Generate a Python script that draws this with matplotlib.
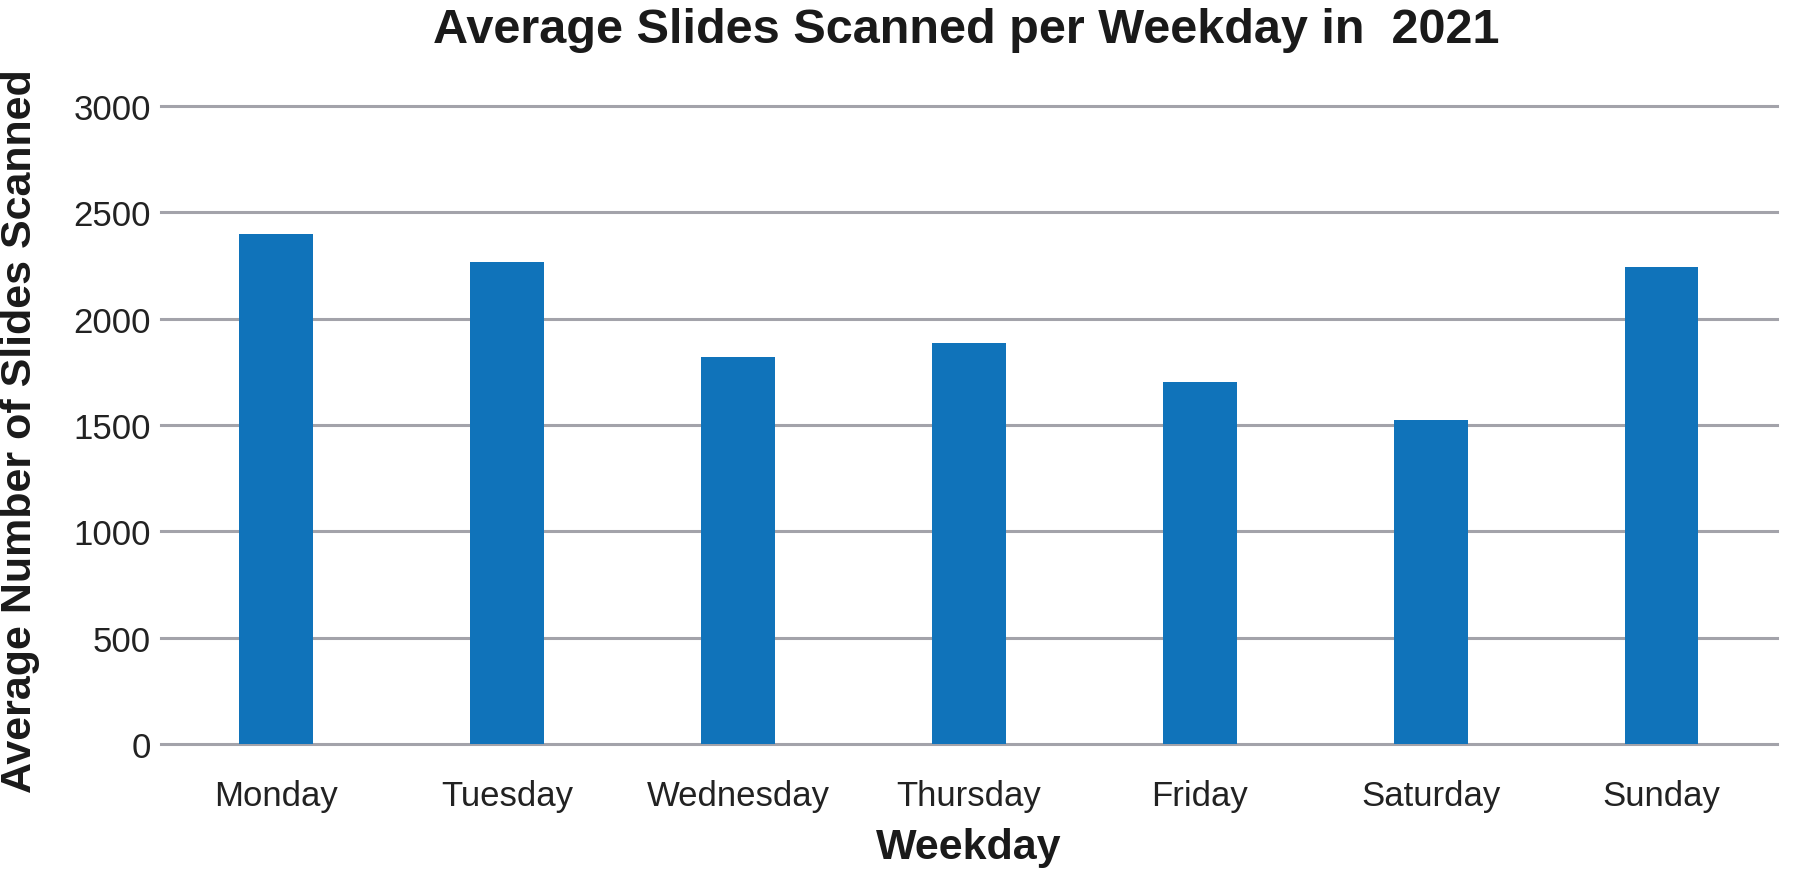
import numpy as np
import matplotlib
matplotlib.use("Agg")
import matplotlib.pyplot as plt

plt.rcParams['font.family'] = ['Liberation Sans', 'DejaVu Sans']

# data
days = ["Monday", "Tuesday", "Wednesday", "Thursday", "Friday", "Saturday", "Sunday"]
slides = [2400, 2265, 1818, 1885, 1700, 1522, 2245]
yticks = [0, 500, 1000, 1500, 2000, 2500, 3000]

bar_color = "#1073BA"
grid_color = "#A3A3AA"

fig = plt.figure(figsize=(18, 8.7), dpi=100)
ax = fig.add_axes([0.0894, 0.1437, 0.8978, 0.7333])

x = np.arange(len(days))
ax.bar(x, slides, width=0.32, color=bar_color, zorder=3)

ax.set_xlim(-0.5, len(days) - 0.5)
ax.set_ylim(0, 3000)
ax.set_yticks(yticks)
ax.set_xticks(x)
ax.set_xticklabels(days)

# only horizontal grid lines, no frame
for s in ax.spines.values():
    s.set_visible(False)
ax.yaxis.grid(True, color=grid_color, linewidth=2.2, zorder=0)
for gl in ax.get_ygridlines():
    gl.set_clip_on(False)
ax.xaxis.grid(False)
ax.tick_params(axis='y', length=0, pad=7, labelsize=25, labelcolor="#222222")
ax.tick_params(axis='x', length=0, pad=25, labelsize=25, labelcolor="#222222")

ax.set_xlabel("Weekday", fontsize=31, fontweight='bold', labelpad=11, color="#1a1a1a")
fig.text(0.011, 0.504, "Average Number of Slides Scanned", rotation=90,
         ha='center', va='center', fontsize=31, fontweight='bold', color="#1a1a1a")
fig.text(0.537, 0.951, "Average Slides Scanned per Weekday in  2021",
         ha='center', va='baseline', fontsize=35, fontweight='bold', color="#1a1a1a")

fig.savefig("out.png", dpi=100, facecolor="white")
